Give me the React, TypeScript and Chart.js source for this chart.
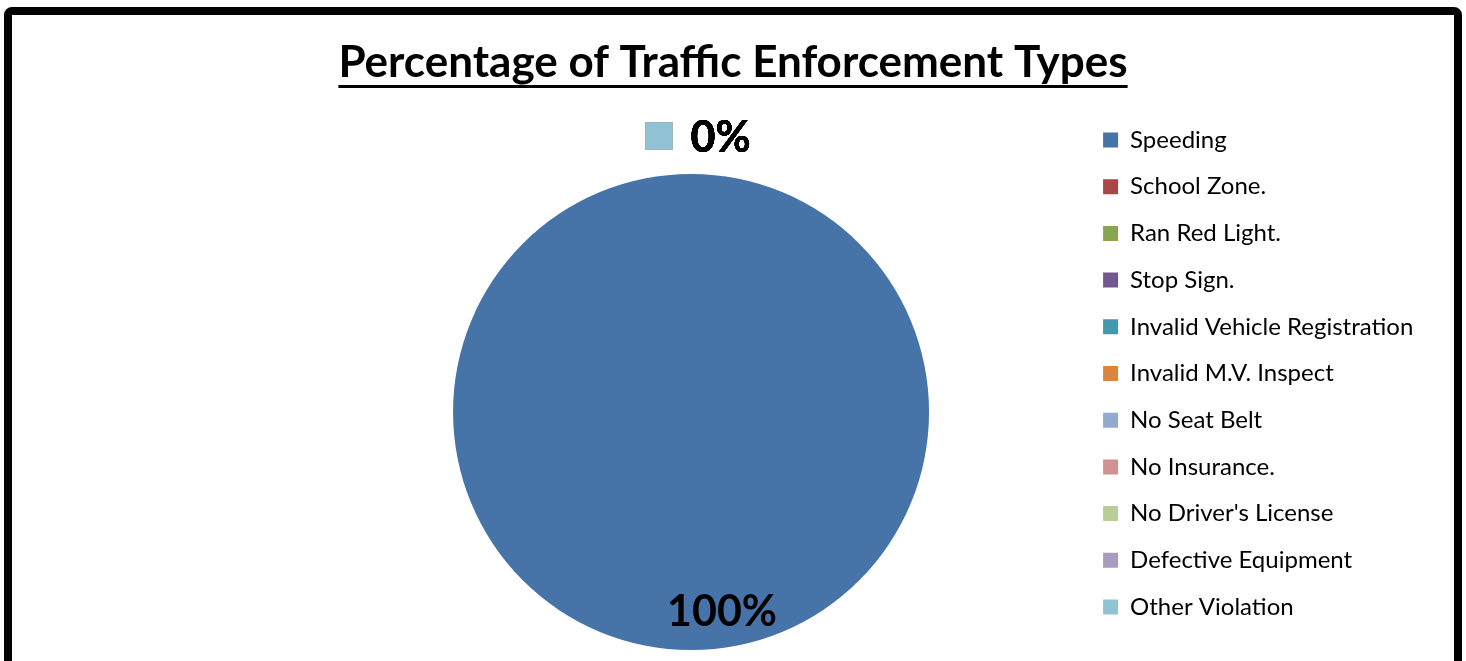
import { useEffect, useRef } from 'react';
import Chart from 'chart.js/auto';

// enforcement categories and their share of all stops (%)
const categories = [
  'Speeding',
  'School Zone.',
  'Ran Red Light.',
  'Stop Sign.',
  'Invalid Vehicle Registration',
  'Invalid M.V. Inspect',
  'No Seat Belt',
  'No Insurance.',
  "No Driver's License",
  'Defective Equipment',
  'Other Violation',
];
const percentages = [100, 0, 0, 0, 0, 0, 0, 0, 0, 0, 0];

const palette = [
  '#4673A8', '#AA4644', '#89A54E', '#71588F', '#4198AF', '#DB843D',
  '#93A9CF', '#D19392', '#B9CD96', '#A99BBD', '#92C3D4',
];

const TITLE = 'Percentage of Traffic Enforcement Types';
const FONT = "Lato, 'Open Sans', sans-serif";
const TITLE_SIZE = 44;
const LEGEND_SIZE = 24;
const LEGEND_PAD = 22.7;
const BOX = 15;

const CANVAS_W = 1442;
const CANVAS_H = 717;
const PIE_CX = 678;
const LEGEND_X = 1089; // left edge of the legend keys

// title is centred on the whole canvas, not only on the space left of the legend
const centreTitle = {
  id: 'centreTitle',
  afterLayout(chart: any) {
    const t = chart.titleBlock;
    if (!t) return;
    t.left = 0;
    t.right = chart.width;
    t.width = chart.width;
  },
};

const underlineTitle = {
  id: 'underlineTitle',
  afterDraw(chart: any) {
    const title = chart.titleBlock;
    if (!title) return;
    const ctx = chart.ctx;
    ctx.save();
    ctx.font = `bold ${TITLE_SIZE}px ${FONT}`;
    const w = ctx.measureText(TITLE).width;
    const cx = (title.left + title.right) / 2;
    const y = title.top + 21.6 + (TITLE_SIZE * 1.2) / 2 + 22;
    ctx.fillStyle = '#000';
    ctx.fillRect(cx - w / 2, y, w, 3);
    ctx.restore();
  },
};

const sliceLabels = {
  id: 'sliceLabels',
  afterDatasetsDraw(chart: any) {
    const meta = chart.getDatasetMeta(0);
    const data = chart.data.datasets[0].data as number[];
    const total = data.reduce((a, b) => a + b, 0);
    const ctx = chart.ctx;
    ctx.save();
    ctx.font = `bold 43px ${FONT}`;
    ctx.textBaseline = 'middle';
    meta.data.forEach((el: any, i: number) => {
      const { x, y, startAngle, endAngle, outerRadius } = el.getProps(
        ['x', 'y', 'startAngle', 'endAngle', 'outerRadius'],
        true
      );
      const text = Math.round((data[i] / total) * 100) + '%';
      const tw = ctx.measureText(text).width;
      if (data[i] > 0) {
        const mid = (startAngle + endAngle) / 2;
        ctx.fillStyle = '#000';
        ctx.textAlign = 'center';
        ctx.fillText(text, x + Math.cos(mid) * outerRadius * 0.84 + 31, y + Math.sin(mid) * outerRadius * 0.84);
      } else {
        // zero slices sit outside the pie with a colour key
        const d = outerRadius + 36;
        const ax = x + Math.cos(startAngle) * d;
        const ay = y + Math.sin(startAngle) * d;
        const key = 27;
        const gap = 18;
        const start = ax - (key + gap + tw) / 2 + 7;
        ctx.fillStyle = palette[i];
        ctx.fillRect(start, ay - key / 2 - 2, key, key);
        ctx.fillStyle = '#000';
        ctx.textAlign = 'left';
        ctx.fillText(text, start + key + gap, ay);
      }
    });
    ctx.restore();
  },
};

function legendWidth() {
  const ctx = document.createElement('canvas').getContext('2d')!;
  ctx.font = `${LEGEND_SIZE}px ${FONT}`;
  const maxText = Math.max(...categories.map((c) => ctx.measureText(c).width));
  return LEGEND_PAD + BOX + LEGEND_SIZE / 2 + maxText + 10;
}

export default function App() {
  const canvasRef = useRef<HTMLCanvasElement>(null);

  useEffect(() => {
    if (!canvasRef.current) return;
    const areaRight = LEGEND_X - LEGEND_PAD;
    const areaLeft = 2 * PIE_CX - areaRight;
    const legW = Math.ceil(legendWidth()) + 2;
    const padRight = Math.max(0, CANVAS_W - areaRight - legW);

    const chart = new Chart(canvasRef.current, {
      type: 'pie',
      data: {
        labels: categories,
        datasets: [
          {
            data: percentages,
            backgroundColor: palette,
            borderWidth: 0,
            radius: 238,
          },
        ],
      },
      options: {
        responsive: false,
        animation: false,
        events: [],
        layout: { padding: { left: areaLeft, right: padRight, top: 0, bottom: 0 } },
        plugins: {
          title: {
            display: true,
            text: TITLE,
            color: '#000',
            font: { family: FONT, size: TITLE_SIZE, weight: 'bold' },
            padding: { top: 21.6, bottom: 2.6 },
          },
          legend: {
            position: 'right',
            maxWidth: legW,
            labels: {
              color: '#000',
              font: { family: FONT, size: LEGEND_SIZE },
              boxWidth: BOX,
              boxHeight: BOX,
              padding: LEGEND_PAD,
            },
          },
          tooltip: { enabled: false },
        },
      },
      plugins: [centreTitle, underlineTitle, sliceLabels],
    });
    return () => chart.destroy();
  }, []);

  return (
    <div style={{ position: 'fixed', left: 0, top: 0, width: 1466, height: 661, overflow: 'hidden', background: '#fff' }}>
      <div
        style={{
          position: 'absolute',
          left: 4,
          top: 7,
          width: 1458,
          height: 740,
          boxSizing: 'border-box',
          border: '8px solid #000',
          borderRadius: 8,
          background: '#fff',
        }}
      >
        <canvas ref={canvasRef} width={CANVAS_W} height={CANVAS_H} style={{ display: 'block' }} />
      </div>
    </div>
  );
}
